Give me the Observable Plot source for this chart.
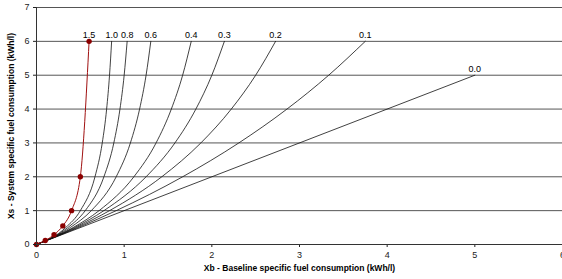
<!DOCTYPE html>
<html><head><meta charset="utf-8">
<script src="https://cdn.jsdelivr.net/npm/d3@7"></script>
<script src="https://cdn.jsdelivr.net/npm/@observablehq/plot@0.6"></script>
<style>body{margin:0;background:#fff} svg{display:block}</style>
</head><body><div id="chart"></div>
<script>
const xTicks = [0, 1, 2, 3, 4, 5, 6];
const yTicks = [0, 1, 2, 3, 4, 5, 6, 7];
const xTitle = "Xb - Baseline specific fuel consumption (kWh/l)";
const yTitle = "Xs - System specific fuel consumption (kWh/l)";

// black curves: Xs values shared, Xb read per curve
const systemXs = [0, 0.5, 1, 2, 3, 4, 5, 6];
const curveLabels = ["0.1", "0.2", "0.3", "0.4", "0.6", "0.8", "1.0"];
const xb01 = [0, 0.476, 0.909, 1.667, 2.308, 2.857, 3.333, 3.75];
const xb02 = [0, 0.455, 0.833, 1.429, 1.875, 2.222, 2.5, 2.727];
const xb03 = [0, 0.435, 0.769, 1.25, 1.579, 1.818, 2.0, 2.143];
const xb04 = [0, 0.417, 0.714, 1.111, 1.364, 1.538, 1.667, 1.765];
const xb06 = [0, 0.385, 0.625, 0.909, 1.071, 1.176, 1.25, 1.304];
const xb08 = [0, 0.357, 0.556, 0.769, 0.882, 0.952, 1.0, 1.034];
const xb10 = [0, 0.333, 0.5, 0.667, 0.75, 0.8, 0.833, 0.857];

// straight 0.0 line
const zeroLabel = "0.0";
const zeroXb = [0, 5];
const zeroXs = [0, 5];

// red series with markers
const redLabel = "1.5";
const redXb = [0, 0.1, 0.2, 0.3, 0.4, 0.5, 0.6];
const redXs = [0, 0.12, 0.29, 0.55, 1.0, 2.0, 6.0];

const blackXb = [xb01, xb02, xb03, xb04, xb06, xb08, xb10];
const lines = [];
curveLabels.forEach((lab, i) => systemXs.forEach((s, j) => lines.push({series: lab, xb: blackXb[i][j], xs: s})));
zeroXb.forEach((v, j) => lines.push({series: zeroLabel, xb: v, xs: zeroXs[j]}));
const red = redXb.map((v, j) => ({series: redLabel, xb: v, xs: redXs[j]}));

const ends = [];
for (const lab of [...curveLabels, zeroLabel]) {
  const pts = lines.filter(d => d.series === lab);
  ends.push(pts[pts.length - 1]);
}
ends.push(red[red.length - 1]);

const chart = Plot.plot({
  width: 562, height: 279,
  marginLeft: 36, marginRight: 0, marginTop: 7, marginBottom: 35,
  x: {domain: [0, 6]},
  y: {domain: [0, 7]},
  style: {fontFamily: "'Liberation Sans', Arial, sans-serif", fontSize: "9px", color: "#222", background: "#fff"},
  marks: [
    Plot.ruleY(yTicks.slice(1), {stroke: "#555", strokeWidth: 1}),
    Plot.line(lines, {x: "xb", y: "xs", z: "series", curve: "monotone-x", stroke: "#111", strokeWidth: 0.8}),
    Plot.line(red, {x: "xb", y: "xs", curve: "monotone-x", stroke: "#a01010", strokeWidth: 1}),
    Plot.dot(red, {x: "xb", y: "xs", r: 2.7, fill: "#8b0000", stroke: "none"}),
    Plot.text(ends, {x: "xb", y: "xs", text: "series", dy: -6, fontSize: 9, fill: "#000"}),
    Plot.axisX({ticks: xTicks, tickSize: 3, tickPadding: 4, label: null, tickFormat: d => String(d)}),
    Plot.axisY({ticks: yTicks, tickSize: 3, tickPadding: 4, label: null, tickFormat: d => String(d)}),
    Plot.ruleX([0], {stroke: "#333"}),
    Plot.ruleY([0], {stroke: "#333"}),
    Plot.text([xTitle], {frameAnchor: "bottom", dy: 26, fontWeight: "bold", fontSize: 8.5, fill: "#000", textAnchor: "middle"}),
    Plot.text([yTitle], {frameAnchor: "left", dx: -25, rotate: -90, fontWeight: "bold", fontSize: 8.5, fill: "#000", textAnchor: "middle"})
  ]
});
document.getElementById("chart").append(chart);
</script>
</body></html>
